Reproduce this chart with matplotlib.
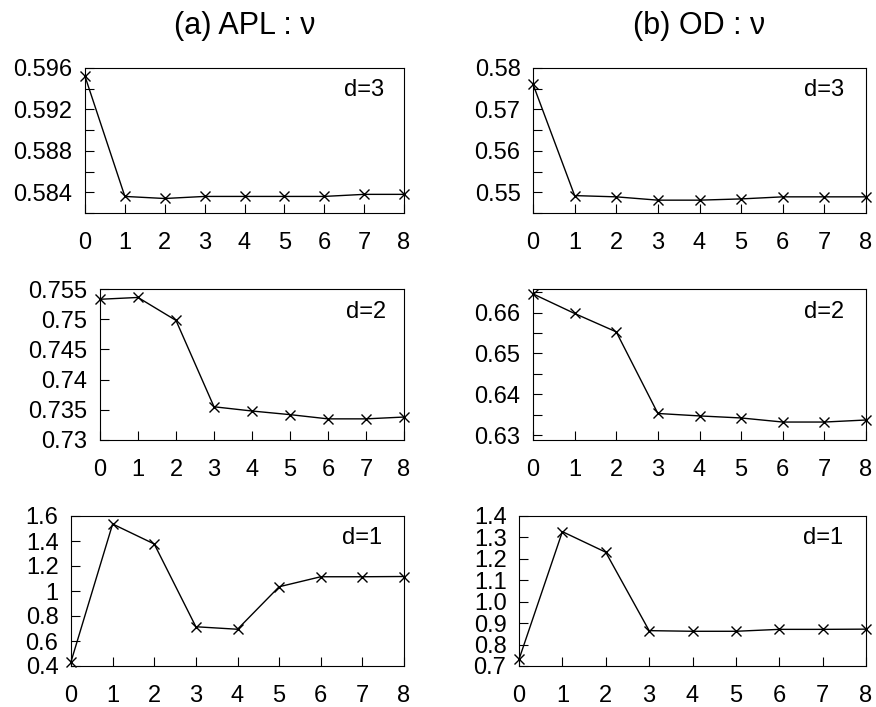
import matplotlib
matplotlib.use("Agg")
import matplotlib.pyplot as plt
from matplotlib.ticker import MultipleLocator, FormatStrFormatter

plt.rcParams['font.family'] = ['Liberation Sans', 'DejaVu Sans']

x = [0, 1, 2, 3, 4, 5, 6, 7, 8]

apl_d3 = [0.5952, 0.5836, 0.5834, 0.5836, 0.5836, 0.5836, 0.5836, 0.5838, 0.5838]
apl_d2 = [0.7533, 0.7536, 0.7498, 0.7355, 0.7348, 0.7342, 0.7335, 0.7335, 0.7338]
apl_d1 = [0.434, 1.536, 1.376, 0.714, 0.694, 1.034, 1.114, 1.114, 1.116]

od_d3 = [0.5761, 0.5492, 0.5489, 0.5481, 0.5481, 0.5484, 0.5489, 0.5489, 0.5489]
od_d2 = [0.6646, 0.6598, 0.6553, 0.6353, 0.6347, 0.6342, 0.6332, 0.6332, 0.6337]
od_d1 = [0.731, 1.327, 1.231, 0.865, 0.862, 0.862, 0.871, 0.871, 0.872]

titles = ["(a) APL : \u03bd", "(b) OD : \u03bd"]

W, H = 876, 707
fig = plt.figure(figsize=(W / 100, H / 100), dpi=100)


def make_ax(x0, x1, y0, y1):
    return fig.add_axes([x0 / W, (H - y1) / H, (x1 - x0) / W, (y1 - y0) / H])


# (pixel box, data, ylim, major step, minor step, format, label)
panels = [
    ((85, 404, 68, 213), apl_d3, (0.582, 0.596), 0.004, 0.002, '%.3f', 'd=3'),
    ((533, 866, 68, 213), od_d3, (0.545, 0.580), 0.01, 0.005, '%.2f', 'd=3'),
    ((100, 404, 289, 440), apl_d2, (0.730, 0.755), 0.005, None, '%g', 'd=2'),
    ((533, 866, 289, 440), od_d2, (0.6288, 0.6658), 0.01, 0.005, '%.2f', 'd=2'),
    ((71, 404, 516, 666), apl_d1, (0.4, 1.6), 0.2, None, '%g', 'd=1'),
    ((519, 866, 516, 666), od_d1, (0.7, 1.4), 0.1, None, '%.1f', 'd=1'),
]

for box, vals, ylim, major, minor, fmt, label in panels:
    ax = make_ax(*box)
    ax.plot(x, vals, color='black', lw=1, marker='x', markersize=7,
            markeredgewidth=1, clip_on=False)
    ax.set_xlim(0, 8)
    ax.set_ylim(*ylim)
    ax.xaxis.set_major_locator(MultipleLocator(1))
    ax.yaxis.set_major_locator(MultipleLocator(major))
    if minor:
        ax.yaxis.set_minor_locator(MultipleLocator(minor))
    ax.yaxis.set_major_formatter(FormatStrFormatter(fmt))
    ax.tick_params(axis='both', which='both', direction='in', length=6.5,
                   width=0.8, labelsize=17, top=False, right=False)
    ax.tick_params(axis='x', pad=14)
    ax.tick_params(axis='y', pad=9)
    ax.tick_params(axis='x', which='minor', bottom=False)
    for s in ax.spines.values():
        s.set_linewidth(0.8)
    # panel label inside the box, upper right
    ax.text(0.875, 0.85, label, transform=ax.transAxes, fontsize=17,
            ha='center', va='center')

fig.text(244.5 / W, 1 - 26 / H, titles[0], fontsize=22, ha='center', va='center')
fig.text(699.5 / W, 1 - 26 / H, titles[1], fontsize=22, ha='center', va='center')

fig.savefig('out.png', dpi=100)
